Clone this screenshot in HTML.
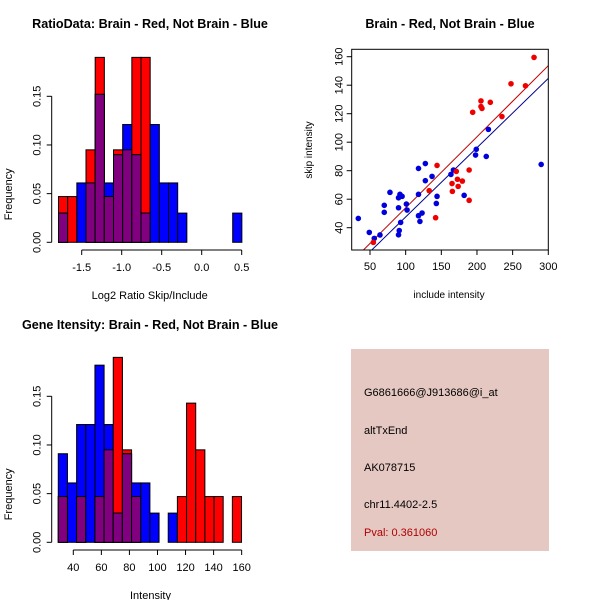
<!DOCTYPE html>
<html><head><meta charset="utf-8"><style>
body{margin:0;background:#fff;}
svg{display:block;font-family:"Liberation Sans",sans-serif;}
</style></head><body>
<svg id="c" width="600" height="600" xmlns="http://www.w3.org/2000/svg">
<rect width="600" height="600" fill="#fff"/>
<g id="g1"></g>
<g id="g2"></g>
<g id="g3"></g>
<g>
<rect x="351" y="349" width="198" height="202" fill="#e6c8c2"/>
<text x="364" y="396" font-size="11" fill="#000">G6861666@J913686@i_at</text>
<text x="364" y="434" font-size="11" fill="#000">altTxEnd</text>
<text x="364" y="471" font-size="11" fill="#000">AK078715</text>
<text x="364" y="508" font-size="11" fill="#000">chr11.4402-2.5</text>
<text x="364" y="536" font-size="11" fill="#b00000">Pval: 0.361060</text>
</g>
</svg>
<script>
// ---- Histogram 1 data ----
const h1Start = -1.79;
const h1Width = 0.1146;
const h1Red  = [0.047,0.047,0,0.095,0.19,0.047,0.095,0.095,0.19,0.19,0,0,0,0,0,0,0,0,0,0];
const h1Blue = [0.03,0,0.061,0.061,0.152,0.061,0.09,0.121,0.09,0.03,0.121,0.061,0.061,0.03,0,0,0,0,0,0.03];
const h1XTicks = [-1.5,-1.0,-0.5,0.0,0.5];
const h1XLabels = ["-1.5","-1.0","-0.5","0.0","0.5"];
const h1YTicks = [0,0.05,0.10,0.15];
const h1YLabels = ["0.00","0.05","0.10","0.15"];
// ---- Histogram 2 data ----
const h2Start = 29.3;
const h2Width = 6.53;
const h2Red  = [0.047,0,0.047,0,0.047,0.095,0.19,0.095,0.047,0,0,0,0,0.047,0.143,0.095,0.047,0.047,0,0.047];
const h2Blue = [0.091,0.061,0.121,0.121,0.182,0.121,0.03,0.091,0.061,0.061,0.03,0,0.03,0,0,0,0,0,0,0];
const h2XTicks = [40,60,80,100,120,140,160];
const h2YTicks = [0,0.05,0.10,0.15];
const h2YLabels = ["0.00","0.05","0.10","0.15"];
// ---- Scatter data ----
const blueX = [33.6,49,56,64,70,70,78,90,90,92,95,90,91,93,101,102,118,118,118,120,123,127.6,127.6,137,143,144,163.5,167,182,198,199,213,216,290];
const blueY = [46.5,36.7,32.5,34.9,55.7,50.8,64.8,54,61,63.4,62,35,38,43.7,56.6,52.4,81.6,63.4,48.4,44.4,50.3,85,73,76,57,62,77.4,80.5,62.7,91,95,90,109,84.4];
const redX = [54.7,133,142,144,165,165.5,171,172.6,173.6,179.5,189,189,194,205.6,205.6,207,218.7,235,247.7,268,280];
const redY = [29.7,66,47,83.7,71,65.5,79.5,74,69,72.7,80.5,59.2,121,129,125,123.7,128,118,141,139.6,159.5];
const redFit = [4.0,0.499];
const blueFit = [-1.15,0.4865];
const scXTicks = [50,100,150,200,250,300];
const scYTicks = [40,60,80,100,120,140,160];

const NS="http://www.w3.org/2000/svg";
function mk(parent,tag,attrs,name){
  const e=document.createElementNS(NS,tag);
  for(const k in attrs)e.setAttribute(k,attrs[k]);
  
  
  parent.appendChild(e);return e;
}
function txt(parent,x,y,s,name,opts){
  const t=mk(parent,'text',Object.assign({x:x,y:y,'font-size':11,'text-anchor':'middle',fill:'#000'},opts||{}),name);
  t.textContent=s;return t;
}
function hist(g,o){
  const sx=v=>o.x0+(v-o.d0)*o.kx, sy=v=>o.y0-v*o.ky;
  for(let i=0;i<o.red.length;i++){
    const a=sx(o.start+i*o.w), b=sx(o.start+(i+1)*o.w);
    const r=o.red[i], bl=o.blue[i], m=Math.min(r,bl);
    if(r>0) mk(g,'rect',{x:a,y:sy(r),width:b-a,height:sy(0)-sy(r),fill:'#ff0000',stroke:'#000','stroke-width':1},'red-bar');
    if(bl>0) mk(g,'rect',{x:a,y:sy(bl),width:b-a,height:sy(0)-sy(bl),fill:'#0000ff',stroke:'#000','stroke-width':1},'blue-bar');
    if(m>0) mk(g,'rect',{x:a,y:sy(m),width:b-a,height:sy(0)-sy(m),fill:'#800080',stroke:'#000','stroke-width':1},'overlap-bar');
  }
  const xa=sx(o.xt[0]), xb=sx(o.xt[o.xt.length-1]);
  mk(g,'line',{x1:xa,x2:xb,y1:o.axY,y2:o.axY,stroke:'#000'},'x-axis');
  o.xt.forEach((v,i)=>{mk(g,'line',{x1:sx(v),x2:sx(v),y1:o.axY,y2:o.axY+5,stroke:'#000'},'x-tick');
    txt(g,sx(v),o.axY+21,o.xl[i],'x-tick-label');});
  mk(g,'line',{x1:o.yAxX,x2:o.yAxX,y1:sy(0),y2:sy(o.yt[o.yt.length-1]),stroke:'#000'},'y-axis');
  o.yt.forEach((v,i)=>{mk(g,'line',{x1:o.yAxX-5,x2:o.yAxX,y1:sy(v),y2:sy(v),stroke:'#000'},'y-tick');
    txt(g,0,0,o.yl[i],'y-tick-label',{transform:`translate(${o.yAxX-11} ${sy(v)}) rotate(-90)`});});
  txt(g,150,o.titleY,o.title,'chart-title',{'font-weight':'bold','font-size':12.6});
  txt(g,(xa+xb)/2+(o.xLabelDx||0),o.axY+49,o.xlab,'x-axis-title');
  txt(g,0,0,'Frequency','y-axis-title',{transform:`translate(12 ${(sy(0)+sy(o.yt[o.yt.length-1]))/2+25}) rotate(-90)`});
}
hist(document.getElementById('g1'),{red:h1Red,blue:h1Blue,start:h1Start,w:h1Width,d0:-1.5,x0:81.7,kx:80,y0:242.3,ky:973.3,
  xt:h1XTicks,xl:h1XLabels,yt:h1YTicks,yl:h1YLabels,axY:250,yAxX:51.7,titleY:28,title:'RatioData: Brain - Red, Not Brain - Blue',xlab:'Log2 Ratio Skip/Include',xLabelDx:-12});
hist(document.getElementById('g3'),{red:h2Red,blue:h2Blue,start:h2Start,w:h2Width,d0:40,x0:73.3,kx:1.403,y0:542.3,ky:973.3,
  xt:h2XTicks,xl:h2XTicks.map(String),yt:h2YTicks,yl:h2YLabels,axY:550,yAxX:51.7,titleY:329,title:'Gene Itensity: Brain - Red, Not Brain - Blue',xlab:'Intensity',xLabelDx:-7});

(function(){
  const g=document.getElementById('g2');
  const L=351.7,R=548.3,T=49.3,B=250;
  const sx=v=>370+(v-50)*(178.3/250), sy=v=>227.7-(v-40)*1.425;
  const cp=mk(g,'clipPath',{id:'clp'},'plot-clip');
  mk(cp,'rect',{x:L,y:T,width:R-L,height:B-T},'clip-rect');
  [[redFit,'#c00000','red-fit-line'],[blueFit,'#00008b','blue-fit-line']].forEach(([f,c,n])=>{
    mk(g,'line',{x1:sx(0),y1:sy(f[0]),x2:sx(320),y2:sy(f[0]+f[1]*320),stroke:c,'stroke-width':1,'clip-path':'url(#clp)'},n);
  });
  blueX.forEach((v,i)=>mk(g,'circle',{cx:sx(v),cy:sy(blueY[i]),r:2.8,fill:'#0000dd'},'blue-point'));
  redX.forEach((v,i)=>mk(g,'circle',{cx:sx(v),cy:sy(redY[i]),r:2.8,fill:'#ee0000'},'red-point'));
  mk(g,'rect',{x:L,y:T,width:R-L,height:B-T,fill:'none',stroke:'#000'},'plot-frame');
  scXTicks.forEach(v=>{mk(g,'line',{x1:sx(v),x2:sx(v),y1:B,y2:B+5,stroke:'#000'},'x-tick');
    txt(g,sx(v),B+20,String(v),'x-tick-label');});
  scYTicks.forEach(v=>{mk(g,'line',{x1:L-5,x2:L,y1:sy(v),y2:sy(v),stroke:'#000'},'y-tick');
    txt(g,0,0,String(v),'y-tick-label',{transform:`translate(${L-9} ${sy(v)}) rotate(-90)`});});
  txt(g,450,28,'Brain - Red, Not Brain - Blue','chart-title',{'font-weight':'bold','font-size':12.6});
  txt(g,449,298,'include intensity','x-axis-title',{'font-size':10});
  txt(g,0,0,'skip intensity','y-axis-title',{'font-size':10,transform:`translate(312 150) rotate(-90)`});
})();
</script>
</body></html>
